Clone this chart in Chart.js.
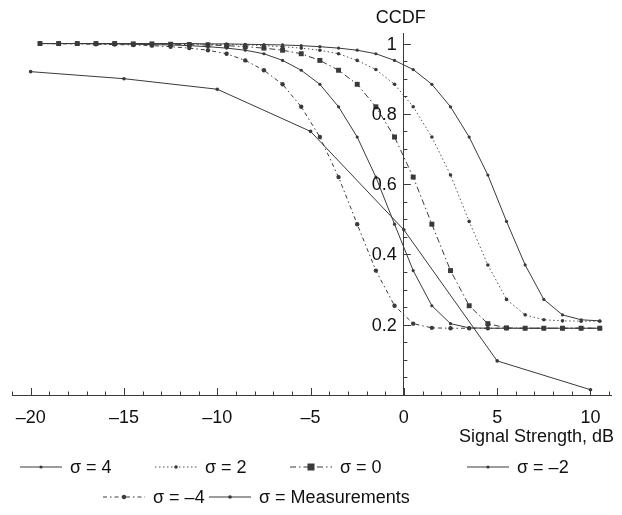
<!DOCTYPE html>
<html lang="en">
<head>
    <meta charset="UTF-8">
    <title>CCDF vs Signal Strength</title>
    <script src="https://cdn.jsdelivr.net/npm/chart.js"></script>
    <style>
        body {
            margin: 0;
            background: #fff;
        }
        .chart-container {
            position: relative;
            width: 622px;
            height: 515px;
        }
    </style>
</head>
<body>
<div class="chart-container">
    <canvas id="ccdfChart"></canvas>
</div>

<script>
    // model curves are sampled every 1 dB
    const signalDb = [-19.5, -18.5, -17.5, -16.5, -15.5, -14.5, -13.5, -12.5, -11.5, -10.5,
        -9.5, -8.5, -7.5, -6.5, -5.5, -4.5, -3.5, -2.5, -1.5, -0.5,
        0.5, 1.5, 2.5, 3.5, 4.5, 5.5, 6.5, 7.5, 8.5, 9.5, 10.5];

    const ccdfSigma4 = [1, 1, 1, 1, 1, 1, 1, 1, 1, 0.999,
        0.999, 0.998, 0.997, 0.996, 0.994, 0.991, 0.987, 0.981, 0.971, 0.952,
        0.926, 0.884, 0.82, 0.734, 0.626, 0.494, 0.37, 0.272, 0.228, 0.214, 0.211];
    const ccdfSigma2 = [1, 1, 1, 1, 1, 1, 1, 0.999, 0.999, 0.998,
        0.997, 0.996, 0.994, 0.991, 0.987, 0.981, 0.971, 0.952, 0.926, 0.884,
        0.82, 0.734, 0.626, 0.494, 0.37, 0.272, 0.228, 0.214, 0.211, 0.21, 0.21];
    const ccdfSigma0 = [1, 1, 1, 1, 1, 0.999, 0.999, 0.998, 0.997, 0.996,
        0.994, 0.991, 0.987, 0.981, 0.971, 0.952, 0.924, 0.884, 0.82, 0.734,
        0.62, 0.486, 0.354, 0.254, 0.203, 0.191, 0.19, 0.19, 0.19, 0.19, 0.19];
    const ccdfSigmaM2 = [1, 1, 1, 0.999, 0.999, 0.998, 0.997, 0.996, 0.994, 0.991,
        0.987, 0.981, 0.971, 0.952, 0.924, 0.884, 0.82, 0.734, 0.62, 0.486,
        0.354, 0.254, 0.203, 0.191, 0.19, 0.19, 0.19, 0.19, 0.19, 0.19, 0.19];
    const ccdfSigmaM4 = [1, 0.999, 0.999, 0.998, 0.997, 0.996, 0.994, 0.991, 0.987, 0.981,
        0.971, 0.952, 0.924, 0.884, 0.82, 0.734, 0.62, 0.486, 0.354, 0.254,
        0.203, 0.191, 0.19, 0.19, 0.19, 0.19, 0.19, 0.19, 0.19, 0.19, 0.19];

    // measured points, every 5 dB
    const measureDb = [-20, -15, -10, -5, 0, 5, 10];
    const ccdfMeasured = [0.92, 0.9, 0.87, 0.75, 0.47, 0.097, 0.015];

    const xTicks = [-20, -15, -10, -5, 0, 5, 10];
    const yTicks = [0.2, 0.4, 0.6, 0.8, 1];

    const ink = '#3a3a3a';
    const font = "'Liberation Sans', Arial, sans-serif";

    function pairs(xs, ys) {
        return xs.map((x, i) => ({x: x, y: ys[i]}));
    }

    function dash(v) {
        return v < 0 ? '\u2013' + Math.abs(v) : String(v);
    }

    // Mathematica style ticks, y labels, axis titles and legend
    const decor = {
        id: 'decor',
        afterDraw(chart) {
            const ctx = chart.ctx;
            const xs = chart.scales.x;
            const ys = chart.scales.y;
            const x0 = xs.getPixelForValue(0);
            const y0 = ys.getPixelForValue(0);

            ctx.save();
            ctx.strokeStyle = ink;
            ctx.lineWidth = 1;
            ctx.setLineDash([]);
            ctx.beginPath();
            for (let v = -21; v <= 11; v++) {
                const px = Math.round(xs.getPixelForValue(v)) + 0.5;
                const len = v % 5 === 0 ? 7 : 3.5;
                ctx.moveTo(px, y0);
                ctx.lineTo(px, y0 - len);
            }
            for (let k = 1; k <= 20; k++) {
                const py = Math.round(ys.getPixelForValue(k * 0.05)) + 0.5;
                const len = k % 4 === 0 ? 7 : 3.5;
                ctx.moveTo(x0, py);
                ctx.lineTo(x0 + len, py);
            }
            ctx.stroke();

            ctx.fillStyle = '#111';
            ctx.font = '18px ' + font;
            ctx.textBaseline = 'middle';
            ctx.textAlign = 'right';
            yTicks.forEach(v => {
                ctx.fillText(String(v), x0 - 7, ys.getPixelForValue(v) + 1);
            });
            ctx.textAlign = 'center';
            ctx.fillText('CCDF', x0 - 3, 18);
            ctx.textAlign = 'right';
            ctx.fillText('Signal Strength, dB', 614, 437);

            // legend
            const items = [
                {ds: 0, x: 20, y: 467},
                {ds: 1, x: 155, y: 467},
                {ds: 2, x: 290, y: 467},
                {ds: 3, x: 467, y: 467},
                {ds: 4, x: 103, y: 497},
                {ds: 5, x: 209, y: 497}
            ];
            items.forEach(it => {
                const d = chart.data.datasets[it.ds];
                ctx.strokeStyle = d.borderColor;
                ctx.lineWidth = d.borderWidth;
                ctx.setLineDash(d.borderDash || []);
                ctx.beginPath();
                ctx.moveTo(it.x, it.y);
                ctx.lineTo(it.x + 42, it.y);
                ctx.stroke();
                ctx.setLineDash([]);
                ctx.fillStyle = d.pointBackgroundColor;
                const r = d.pointRadius;
                if (d.pointStyle === 'rect') {
                    ctx.fillRect(it.x + 21 - r, it.y - r, 2 * r, 2 * r);
                } else {
                    ctx.beginPath();
                    ctx.arc(it.x + 21, it.y, r, 0, Math.PI * 2);
                    ctx.fill();
                }
                ctx.fillStyle = '#111';
                ctx.textAlign = 'left';
                ctx.fillText(d.label, it.x + 50, it.y + 1);
            });
            ctx.restore();
        }
    };

    function series(label, xs, ys, dashPattern, style, radius, color) {
        return {
            label: label,
            data: pairs(xs, ys),
            showLine: true,
            borderColor: color,
            borderWidth: 1,
            borderDash: dashPattern,
            pointStyle: style,
            pointRadius: radius,
            pointBackgroundColor: ink,
            pointBorderColor: ink,
            pointBorderWidth: 0,
            tension: 0
        };
    }

    const ctx = document.getElementById('ccdfChart').getContext('2d');
    new Chart(ctx, {
        type: 'scatter',
        data: {
            datasets: [
                series('\u03c3 = 4', signalDb, ccdfSigma4, [], 'circle', 1.6, ink),
                series('\u03c3 = 2', signalDb, ccdfSigma2, [1.5, 2.5], 'circle', 1.8, '#555'),
                series('\u03c3 = 0', signalDb, ccdfSigma0, [6, 3, 1.5, 3], 'rect', 3.5, ink),
                series('\u03c3 = \u20132', signalDb, ccdfSigmaM2, [], 'circle', 1.6, ink),
                series('\u03c3 = \u20134', signalDb, ccdfSigmaM4, [4, 3, 1.5, 3], 'circle', 2.2, ink),
                series('\u03c3 = Measurements', measureDb, ccdfMeasured, [], 'circle', 1.8, ink)
            ]
        },
        options: {
            responsive: true,
            maintainAspectRatio: false,
            animation: false,
            layout: {
                padding: {left: 12, right: 11, top: 33, bottom: 120}
            },
            plugins: {
                legend: {display: false},
                tooltip: {enabled: false}
            },
            scales: {
                x: {
                    type: 'linear',
                    min: -21,
                    max: 11.1,
                    position: {y: 0},
                    afterBuildTicks: scale => {
                        scale.ticks = xTicks.map(v => ({value: v}));
                    },
                    grid: {display: false},
                    border: {display: true, color: ink, width: 1},
                    ticks: {
                        color: '#111',
                        font: {family: font, size: 18},
                        padding: 4,
                        maxRotation: 0,
                        callback: v => dash(v)
                    }
                },
                y: {
                    type: 'linear',
                    min: 0,
                    max: 1.03,
                    position: {x: 0},
                    afterBuildTicks: scale => {
                        scale.ticks = yTicks.map(v => ({value: v}));
                    },
                    grid: {display: false},
                    border: {display: true, color: ink, width: 1},
                    ticks: {display: false}
                }
            }
        },
        plugins: [decor]
    });
</script>
</body>
</html>
